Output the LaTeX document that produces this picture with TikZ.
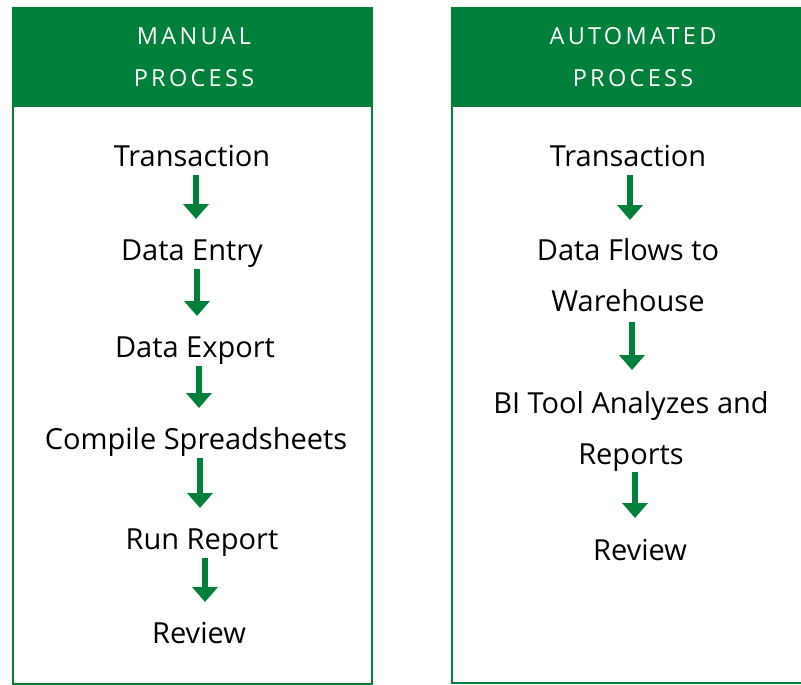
\documentclass[tikz,border=0pt]{standalone}
\usepackage{fontspec}
\setmainfont{Open Sans}
\newfontfamily\headfont[LetterSpace=14]{Open Sans}
\usetikzlibrary{calc,arrows.meta}

\definecolor{procgreen}{RGB}{0,128,58}

\begin{document}
\begin{tikzpicture}[x=1pt,y=-1pt,
	panel/.style={draw=procgreen, line width=2.5pt},
	header/.style={fill=procgreen},
	headtext/.style={text=white, anchor=base, align=center, inner sep=0pt,
		font=\headfont\fontsize{23.5}{41}\selectfont},
	steptext/.style={anchor=base, align=center, inner sep=0pt,
		font=\fontsize{29}{51}\selectfont},
	flow/.style={draw=procgreen, line width=6pt,
		-{Triangle[width=25pt,length=15pt]}}]

	% ---- canvas

	\useasboundingbox (0,0) rectangle (801,685);

	% ---- panels

	\draw[panel] (13,8) rectangle (372,684);
	\fill[header] (12,7) rectangle (373,107);

	\draw[panel] (452,8) rectangle (810,683);
	\fill[header] (451,7) rectangle (810,107);

	% ---- headers (base = last line)

	\node[headtext] (mhead) at (194,86) {MANUAL\\PROCESS};
	\node[headtext] (ahead) at (633,86) {AUTOMATED\\PROCESS};

	% ---- manual steps

	\foreach \n/\x/\y/\t in {m1/192/166/Transaction, m2/192/260/Data Entry,
		m3/195/357/Data Export, m4/196/449/Compile Spreadsheets,
		m5/202/549/Run Report, m6/199/643/Review}
	{ \node[steptext] (\n) at (\x,\y) {\t}; }

	% ---- automated steps

	\node[steptext] (a1) at (628,166) {Transaction};
	\node[steptext] (a2) at (628,311) {Data Flows to\\Warehouse};
	\node[steptext] (a3) at (631,464) {BI Tool Analyzes and\\Reports};
	\node[steptext] (a4) at (640,560) {Review};

	% ---- arrows

	\foreach \a/\b/\sa/\sb in {m1/m2/4/4, m2/m3/5/2, m3/m4/4/3, m4/m5/4/-2, m5/m6/3/6}
	{ \draw[flow] ($(\a.base)+(\sa,9)$) -- ($(\b.base)+(\sb,-41)$); }

	\draw[flow] ($(a1.base)+(2,9)$) -- ($(a2.base)+(2,-91)$);
	\draw[flow] ($(a2.base)+(4,11)$) -- ($(a3.base)+(1,-94)$);
	\draw[flow] ($(a3.base)+(4,8)$) -- ($(a4.base)+(-5,-42)$);

\end{tikzpicture}
\end{document}
